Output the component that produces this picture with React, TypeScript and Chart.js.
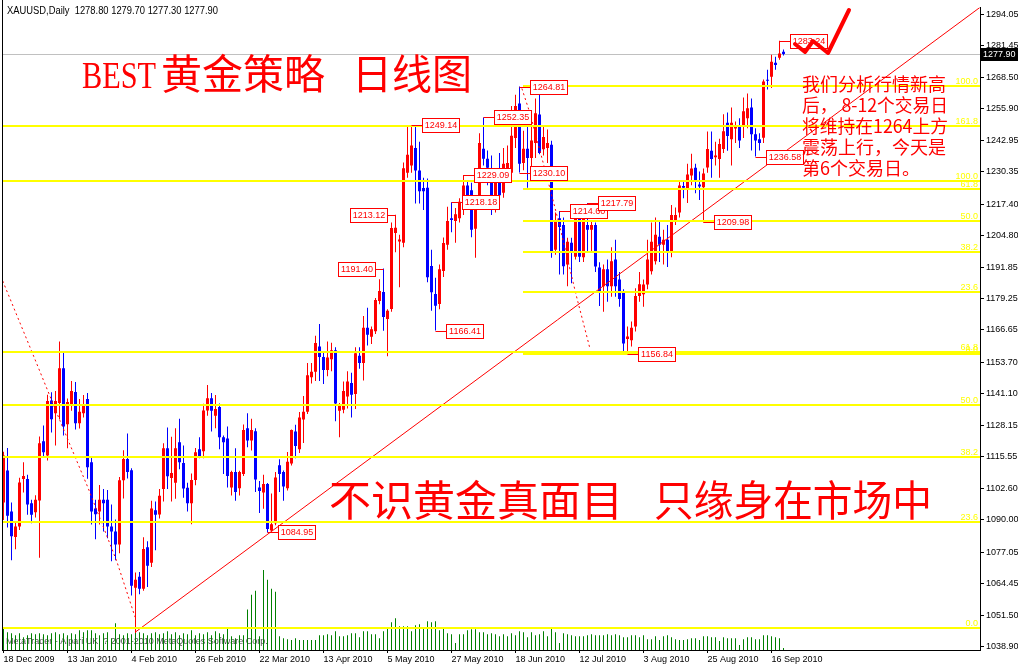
import React, { useEffect, useRef } from 'react';
import { Chart, registerables } from 'chart.js';

Chart.register(...registerables);

// ---- daily XAUUSD candles (18 Dec 2009 .. 20 Sep 2010) ----
const opens = [
  1097.0, 1110.0, 1093.4, 1083.1, 1087.4, 1106.5, 1106.5, 1096.7, 1093.1, 1097.9,
  1121.7, 1116.0, 1138.2, 1133.0, 1137.2, 1151.2, 1128.6, 1136.6, 1141.6, 1129.0,
  1133.0, 1138.8, 1113.3, 1094.6, 1093.4, 1098.2, 1098.2, 1087.4, 1085.4, 1080.1,
  1106.0, 1114.6, 1110.1, 1062.7, 1067.1, 1062.3, 1079.0, 1072.7, 1093.9, 1092.2,
  1102.5, 1118.9, 1106.9, 1105.0, 1121.3, 1113.0, 1103.0, 1096.7, 1106.1, 1118.5,
  1117.7, 1134.1, 1139.1, 1132.0, 1135.6, 1123.4, 1122.9, 1103.1, 1109.3, 1102.8,
  1108.5, 1127.0, 1122.1, 1125.8, 1103.1, 1101.1, 1104.5, 1085.8, 1088.7, 1112.1,
  1109.3, 1102.8, 1112.8, 1125.7, 1118.5, 1130.5, 1133.6, 1147.6, 1149.8, 1160.0,
  1155.7, 1150.5, 1154.8, 1158.4, 1134.0, 1134.5, 1139.8, 1145.2, 1140.8, 1156.2,
  1153.3, 1167.5, 1163.9, 1166.1, 1178.3, 1181.9, 1171.1, 1175.1, 1205.7, 1202.3,
  1201.8, 1230.0, 1233.0, 1240.0, 1230.9, 1223.9, 1224.0, 1192.4, 1181.1, 1177.1,
  1190.4, 1201.0, 1211.7, 1210.6, 1211.7, 1215.0, 1224.9, 1223.0, 1207.5, 1219.0,
  1239.7, 1235.7, 1232.0, 1217.0, 1230.0, 1222.0, 1231.0, 1230.0, 1244.0, 1258.0,
  1234.0, 1239.7, 1236.0, 1242.0, 1253.5, 1239.5, 1240.0, 1241.3, 1199.0, 1211.7,
  1209.0, 1193.0, 1201.8, 1196.2, 1211.7, 1196.0, 1209.0, 1207.0, 1209.0, 1191.8,
  1184.3, 1191.1, 1184.3, 1195.0, 1187.0, 1182.3, 1163.0, 1162.5, 1168.0, 1180.3,
  1181.0, 1185.0, 1190.3, 1194.3, 1204.2, 1201.0, 1203.0, 1197.8, 1211.0, 1214.0,
  1224.7, 1223.7, 1228.9, 1232.1, 1225.3, 1224.2, 1232.2, 1238.9, 1236.3, 1235.6,
  1239.6, 1250.2, 1243.5, 1247.9, 1249.2, 1248.8, 1252.0, 1256.3, 1245.6, 1243.5,
  1244.2, 1267.5, 1268.8, 1274.4, 1276.4, 1278.8,
];
const highs = [
  1117.5, 1119.0, 1097.0, 1089.0, 1107.0, 1113.3, 1108.2, 1098.2, 1100.0, 1123.7,
  1128.1, 1140.5, 1141.5, 1142.0, 1162.0, 1158.0, 1139.0, 1146.0, 1145.6, 1138.8,
  1140.4, 1141.2, 1115.3, 1098.2, 1104.1, 1102.5, 1102.1, 1096.2, 1090.2, 1107.3,
  1118.1, 1124.9, 1110.9, 1068.8, 1069.0, 1083.0, 1081.4, 1097.8, 1097.4, 1102.5,
  1120.9, 1127.3, 1123.6, 1127.0, 1130.8, 1120.0, 1105.0, 1108.7, 1119.0, 1123.4,
  1136.9, 1144.4, 1141.2, 1140.4, 1137.0, 1124.1, 1127.7, 1109.9, 1118.9, 1109.9,
  1128.5, 1133.0, 1130.8, 1127.0, 1105.7, 1108.2, 1104.9, 1100.7, 1109.3, 1114.5,
  1110.0, 1117.4, 1126.5, 1128.4, 1133.5, 1140.0, 1153.3, 1153.3, 1164.3, 1169.0,
  1157.9, 1162.0, 1161.5, 1159.7, 1137.2, 1145.8, 1150.0, 1149.4, 1159.7, 1159.7,
  1172.3, 1175.6, 1168.0, 1179.5, 1187.1, 1191.4, 1175.0, 1210.0, 1213.12, 1205.0,
  1234.2, 1248.5, 1249.14, 1248.6, 1242.5, 1228.0, 1227.7, 1199.0, 1187.7, 1193.0,
  1203.9, 1216.3, 1218.18, 1215.8, 1219.8, 1229.09, 1227.0, 1226.0, 1221.0, 1246.0,
  1252.35, 1239.0, 1237.0, 1230.0, 1238.0, 1240.0, 1241.0, 1257.0, 1261.5, 1264.81,
  1247.0, 1251.0, 1250.0, 1260.0, 1262.0, 1249.0, 1247.5, 1242.9, 1214.0, 1214.6,
  1212.0, 1203.8, 1203.8, 1216.0, 1214.0, 1214.0, 1217.79, 1211.0, 1210.0, 1193.9,
  1193.0, 1195.0, 1200.0, 1203.0, 1190.0, 1183.0, 1168.0, 1170.0, 1183.5, 1190.0,
  1187.0, 1203.0, 1210.0, 1212.0, 1211.0, 1207.0, 1209.0, 1217.0, 1216.0, 1227.0,
  1227.0, 1233.7, 1237.7, 1233.7, 1230.5, 1231.7, 1246.7, 1246.7, 1242.5, 1243.7,
  1253.6, 1254.3, 1256.3, 1250.7, 1252.0, 1260.4, 1262.0, 1260.0, 1248.0, 1246.0,
  1267.6, 1271.6, 1277.6, 1276.8, 1283.24, 1279.7,
];
const lows = [
  1090.0, 1087.0, 1073.8, 1078.2, 1086.0, 1101.1, 1092.1, 1088.7, 1091.0, 1074.8,
  1115.0, 1114.0, 1125.3, 1120.0, 1130.6, 1124.1, 1118.9, 1134.0, 1126.5, 1126.9,
  1131.3, 1106.6, 1088.2, 1082.2, 1088.2, 1085.4, 1082.6, 1073.4, 1073.8, 1076.6,
  1098.7, 1106.7, 1059.5, 1044.4, 1060.0, 1061.5, 1063.0, 1071.0, 1077.8, 1090.6,
  1097.4, 1102.5, 1097.4, 1098.6, 1110.5, 1099.0, 1093.4, 1088.3, 1104.0, 1114.9,
  1114.9, 1132.0, 1125.7, 1127.0, 1118.5, 1108.5, 1103.1, 1099.9, 1097.8, 1099.9,
  1107.7, 1119.3, 1118.0, 1101.3, 1092.8, 1094.5, 1084.95, 1085.5, 1087.9, 1101.3,
  1097.8, 1101.9, 1112.0, 1114.9, 1117.0, 1121.0, 1132.7, 1145.0, 1146.0, 1146.0,
  1144.8, 1148.0, 1150.0, 1129.8, 1123.4, 1133.0, 1135.0, 1131.3, 1134.8, 1151.0,
  1146.2, 1160.4, 1161.0, 1165.0, 1177.0, 1166.3, 1156.0, 1174.0, 1198.0, 1183.9,
  1200.0, 1228.0, 1230.0, 1217.6, 1217.6, 1215.0, 1185.9, 1174.4, 1166.41, 1175.0,
  1188.0, 1199.0, 1206.0, 1201.8, 1210.0, 1213.0, 1216.0, 1204.0, 1195.8, 1217.0,
  1233.0, 1225.0, 1213.0, 1214.0, 1219.0, 1220.0, 1228.0, 1228.0, 1240.0, 1230.10,
  1231.0, 1224.0, 1230.0, 1236.0, 1237.5, 1237.0, 1234.0, 1195.8, 1197.0, 1189.0,
  1189.0, 1184.3, 1185.5, 1195.0, 1194.0, 1194.0, 1198.0, 1198.0, 1190.0, 1176.3,
  1174.0, 1178.0, 1180.0, 1180.0, 1176.0, 1157.5, 1156.84, 1160.0, 1166.0, 1178.0,
  1176.0, 1183.0, 1189.0, 1193.0, 1194.0, 1193.0, 1192.0, 1196.0, 1209.0, 1212.0,
  1219.7, 1217.8, 1225.0, 1221.8, 1219.0, 1209.98, 1230.0, 1228.0, 1233.0, 1228.0,
  1238.0, 1238.9, 1233.0, 1242.0, 1240.0, 1244.0, 1248.0, 1239.0, 1236.58, 1239.0,
  1242.0, 1263.6, 1264.2, 1271.6, 1275.6, 1277.3,
];
const closes = [
  1116.0, 1091.7, 1083.4, 1087.4, 1105.1, 1107.7, 1096.2, 1092.1, 1098.2, 1120.9,
  1117.3, 1138.0, 1130.6, 1138.0, 1151.2, 1127.7, 1137.6, 1142.0, 1129.0, 1133.6,
  1136.8, 1111.3, 1093.4, 1092.3, 1098.2, 1096.7, 1087.4, 1085.4, 1080.1, 1106.0,
  1114.6, 1109.3, 1063.5, 1065.9, 1062.3, 1078.3, 1071.5, 1094.6, 1092.1, 1099.8,
  1118.9, 1107.6, 1108.9, 1118.9, 1113.3, 1102.7, 1096.7, 1106.1, 1117.3, 1115.7,
  1134.1, 1139.1, 1134.0, 1134.8, 1123.4, 1121.3, 1107.7, 1109.3, 1101.3, 1109.3,
  1126.3, 1122.1, 1126.3, 1106.3, 1101.7, 1104.5, 1086.4, 1088.3, 1107.1, 1108.5,
  1103.5, 1113.5, 1126.3, 1119.8, 1131.3, 1133.6, 1148.4, 1149.8, 1161.4, 1155.7,
  1150.5, 1155.5, 1158.4, 1137.0, 1136.7, 1142.0, 1145.8, 1140.5, 1157.2, 1153.3,
  1167.5, 1164.7, 1166.9, 1178.7, 1182.3, 1171.9, 1174.4, 1207.8, 1207.9, 1203.1,
  1231.8, 1237.3, 1241.0, 1230.9, 1222.6, 1222.6, 1187.9, 1181.8, 1176.4, 1191.1,
  1201.7, 1210.6, 1211.0, 1213.3, 1218.3, 1224.9, 1221.0, 1207.0, 1219.0, 1242.0,
  1235.7, 1232.1, 1217.0, 1227.0, 1221.0, 1233.7, 1234.0, 1245.0, 1257.0, 1233.7,
  1239.7, 1236.0, 1243.0, 1254.0, 1238.0, 1244.5, 1242.0, 1198.2, 1211.0, 1208.2,
  1192.3, 1202.2, 1197.8, 1211.7, 1196.2, 1211.5, 1207.0, 1209.0, 1192.2, 1182.3,
  1191.1, 1184.3, 1194.3, 1184.3, 1179.1, 1161.2, 1164.0, 1167.5, 1180.3, 1185.1,
  1185.0, 1195.0, 1202.2, 1205.0, 1201.0, 1203.0, 1197.8, 1213.0, 1213.0, 1224.9,
  1224.0, 1229.3, 1231.7, 1227.0, 1224.5, 1229.7, 1239.6, 1235.6, 1237.0, 1241.6,
  1246.8, 1244.9, 1250.2, 1249.2, 1243.0, 1254.8, 1256.0, 1245.6, 1243.0, 1242.0,
  1266.8, 1267.1, 1274.8, 1273.5, 1278.1, 1277.9,
];
const volumes = [
  23000, 18000, 17000, 15000, 17000, 13000, 15000, 17000, 16000, 17000,
  16000, 15000, 17000, 18000, 16000, 17000, 15000, 17000, 16000, 20000,
  18000, 20000, 20000, 17000, 15000, 17000, 18000, 12000, 27000, 16000,
  15000, 17000, 16000, 19000, 18000, 17000, 15000, 17000, 18000, 16000,
  17000, 19000, 16000, 18000, 15000, 17000, 16000, 20000, 15000, 17000,
  16000, 18000, 15000, 19000, 17000, 16000, 22000, 14000, 12000, 15000,
  15000, 41000, 56000, 60000, 14000, 81000, 71000, 62000, 59000, 14000,
  12000, 11000, 10000, 12000, 10000, 10000, 10000, 10000, 10000, 15000,
  15000, 16000, 15000, 19000, 14000, 14000, 15000, 17000, 17000, 13000,
  19000, 19000, 16000, 16000, 12000, 19000, 22000, 28000, 32000, 24000,
  24000, 24000, 19000, 25000, 26000, 23000, 29000, 28000, 29000, 20000,
  23000, 17000, 16000, 7000, 16000, 16000, 20000, 21000, 21000, 18000,
  18000, 16000, 17000, 16000, 14000, 16000, 14000, 17000, 15000, 19000,
  18000, 13000, 18000, 15000, 16000, 19000, 14000, 23000, 18000, 7000,
  17000, 16000, 15000, 14000, 14000, 14000, 15000, 16000, 15000, 15000,
  15000, 16000, 15000, 16000, 15000, 13000, 13000, 15000, 15000, 13000,
  15000, 11000, 11000, 14000, 10000, 14000, 15000, 13000, 11000, 10000,
  10000, 11000, 12000, 12000, 10000, 14000, 14000, 13000, 13000, 9000,
  13000, 12000, 12000, 12000, 5000, 11000, 13000, 13000, 11000, 11000,
  15000, 15000, 14000, 13000, 12000, 2000,
];

// ---- axes ----
const xTickIndex = [0, 16, 32, 48, 64, 80, 96, 112, 128, 144, 160, 176, 192];
const xTickLabels = ['18 Dec 2009', '13 Jan 2010', '4 Feb 2010', '26 Feb 2010', '22 Mar 2010', '13 Apr 2010',
  '5 May 2010', '27 May 2010', '18 Jun 2010', '12 Jul 2010', '3 Aug 2010', '25 Aug 2010', '16 Sep 2010'];
const yTickValues = [1294.05, 1281.45, 1268.5, 1255.9, 1242.95, 1230.35, 1217.4, 1204.8, 1191.85, 1179.25,
  1166.65, 1153.7, 1141.1, 1128.15, 1115.55, 1102.6, 1090.0, 1077.05, 1064.45, 1051.5, 1038.9];
const X_MIN = -0.375;
const X_MAX = 244.125;
const Y_MIN = 1037.56;
const Y_MAX = 1296.72;
const VOL_MAX = 650000;

// ---- fibonacci levels ----
const fibValues = [1265.1, 1248.9, 1226.6, 1223.5, 1210.7, 1197.9, 1182.0, 1157.7, 1156.8, 1136.5, 1115.2, 1089.3, 1046.3];
const fibLabels = ['100.0', '161.8', '100.0', '61.8', '50.0', '38.2', '23.6', '61.8', '0.0', '50.0', '38.2', '23.6', '0.0'];
const fibStartBar = [129.9, null, null, 129.9, 129.9, 129.9, 129.9, null, 129.9, null, null, null, null];

// ---- swing price marks ----
const markBars = [66, 95, 98, 108, 102, 120, 115, 112, 129, 129, 139, 146, 156, 175, 188, 194];
const markValues = [1084.95, 1191.4, 1213.12, 1166.41, 1249.14, 1252.35, 1229.09, 1218.18, 1264.81, 1230.1,
  1214.6, 1217.79, 1156.84, 1209.98, 1236.58, 1283.24];
const markSide = [1, -1, -1, 1, 1, 1, 1, 1, 1, 1, 1, 1, 1, 1, 1, 1];

// ---- drawn lines ----
const zigAX = [-0.2, 7.05, 14.1, 21.2, 28.3, 32.9];
const zigAY = [1186.4, 1158.0, 1130.1, 1102.7, 1073.4, 1050.8];
const zigBX = [129.6, 131.6, 136.1, 139.1, 143.1, 146.6];
const zigBY = [1264.0, 1254.1, 1226.9, 1208.2, 1181.1, 1159.2];
const trendX = [32.9, 244.1];
const trendY = [1044.7, 1296.7];

const titleLatin = 'BEST';
const titleCjk = '黄金策略';
const titleCjk2 = '日线图';
const slogan1 = '不识黄金真面目';
const slogan2 = '只缘身在市场中';
const noteLines = ['我们分析行情新高', '后， 8-12个交易日', '将维持在1264上方', '震荡上行，今天是', '第6个交易日。'];
const copyright = 'MetaTrader - Alpari UK, ? 2001-2010 MetaQuotes Software Corp.';

const RED = '#ff0000';
const BLUE = '#0000ff';
const GREEN = '#008000';
const YELLOW = '#ffff00';
const CJK = '"Noto Sans CJK SC"';
const SANS = '"Liberation Sans"';

const overlay = {
  id: 'overlay',
  beforeDraw(chart: any) {
    const ctx = chart.ctx;
    ctx.save();
    ctx.fillStyle = '#ffffff';
    ctx.fillRect(0, 0, chart.width, chart.height);
    ctx.restore();
  },
  beforeDatasetsDraw(chart: any) {
    const { ctx, chartArea: a, scales } = chart;
    const last = closes[closes.length - 1];
    ctx.save();
    const py = Math.round(scales.y.getPixelForValue(last)) + 0.5;
    ctx.strokeStyle = '#c0c0c0';
    ctx.lineWidth = 1;
    ctx.beginPath();
    ctx.moveTo(a.left, py);
    ctx.lineTo(a.right, py);
    ctx.stroke();
    ctx.font = `9px ${SANS}`;
    ctx.fillStyle = '#505050';
    ctx.textBaseline = 'middle';
    ctx.textAlign = 'left';
    ctx.fillText(copyright, 6, 642, 289);
    ctx.restore();
  },
  afterDatasetsDraw(chart: any) {
    const { ctx, chartArea: a, scales } = chart;
    const xs = scales.x;
    const ys = scales.y;
    ctx.save();

    // fibonacci lines
    ctx.fillStyle = YELLOW;
    ctx.font = `9px ${SANS}`;
    ctx.textAlign = 'right';
    ctx.textBaseline = 'alphabetic';
    fibValues.forEach((v, k) => {
      const y = Math.round(ys.getPixelForValue(v));
      const sb = fibStartBar[k];
      const x0 = sb === null ? a.left : Math.round(xs.getPixelForValue(sb));
      ctx.fillRect(x0, y - 1, a.right - x0, 2);
      ctx.fillText(fibLabels[k], a.right - 2, y - 2);
    });

    // left frame
    ctx.strokeStyle = '#000000';
    ctx.lineWidth = 1;
    ctx.beginPath();
    ctx.moveTo(a.left + 0.5, 0);
    ctx.lineTo(a.left + 0.5, a.bottom);
    ctx.stroke();

    // swing price labels
    ctx.strokeStyle = RED;
    ctx.font = `9px ${SANS}`;
    markBars.forEach((b, k) => {
      const ax = xs.getPixelForValue(b);
      const ay = Math.round(ys.getPixelForValue(markValues[k])) + 0.5;
      const w = 37;
      const h = 14;
      const bx = markSide[k] > 0 ? Math.round(ax + 10) + 0.5 : Math.round(ax - 9 - w) + 0.5;
      const by = ay - 7;
      ctx.beginPath();
      ctx.moveTo(ax, ay);
      ctx.lineTo(markSide[k] > 0 ? bx : bx + w, ay);
      ctx.stroke();
      ctx.fillStyle = '#ffffff';
      ctx.fillRect(bx, by, w, h);
      ctx.strokeRect(bx, by, w, h);
      ctx.fillStyle = RED;
      ctx.textAlign = 'center';
      ctx.textBaseline = 'middle';
      ctx.fillText(markValues[k].toFixed(2), bx + w / 2, by + h / 2 + 0.5);
    });

    // hand drawn mark
    ctx.strokeStyle = RED;
    ctx.lineWidth = 4;
    ctx.lineJoin = 'round';
    ctx.lineCap = 'round';
    ctx.beginPath();
    ctx.moveTo(795, 44);
    ctx.lineTo(805, 52);
    ctx.lineTo(813, 41);
    ctx.lineTo(828, 53);
    ctx.lineTo(849, 10);
    ctx.stroke();

    // titles
    ctx.fillStyle = RED;
    ctx.textAlign = 'left';
    ctx.textBaseline = 'alphabetic';
    ctx.font = `38px "Liberation Serif"`;
    ctx.fillText(titleLatin, 82, 88, 74);
    ctx.font = `41px ${CJK}`;
    ctx.fillText(titleCjk, 161, 89, 168);
    ctx.fillText(titleCjk2, 352, 89, 120);
    ctx.font = `42px ${CJK}`;
    ctx.fillText(slogan1, 329, 516, 304);
    ctx.fillText(slogan2, 654, 516, 278);
    ctx.font = `18px ${CJK}`;
    noteLines.forEach((t, k) => {
      ctx.fillText(t, 802, 91 + k * 21, 146);
    });

    // header
    const n = closes.length - 1;
    ctx.fillStyle = '#000000';
    ctx.font = `10px ${SANS}`;
    const header = `XAUUSD,Daily  ${opens[n].toFixed(2)} ${highs[n].toFixed(2)} ${lows[n].toFixed(2)} ${closes[n].toFixed(2)}`;
    ctx.fillText(header, 7, 14, 211);
    ctx.restore();
  },
  afterDraw(chart: any) {
    const { ctx, chartArea: a, scales } = chart;
    const last = closes[closes.length - 1];
    const y = Math.round(scales.y.getPixelForValue(last));
    ctx.save();
    ctx.fillStyle = '#000000';
    ctx.fillRect(a.right + 1, y - 6, chart.width - a.right - 1, 13);
    ctx.fillStyle = '#ffffff';
    ctx.font = `9px ${SANS}`;
    ctx.textAlign = 'left';
    ctx.textBaseline = 'middle';
    ctx.fillText(last.toFixed(2), a.right + 3, y + 0.5);
    ctx.restore();
  },
};

export default function App() {
  const canvasRef = useRef<HTMLCanvasElement | null>(null);
  useEffect(() => {
    document.body.style.margin = '0';
    const canvas = canvasRef.current;
    if (!canvas) return;
    const idx = opens.map((_, i) => i);
    const colors = idx.map((i) => (closes[i] >= opens[i] ? RED : BLUE));
    const chart = new Chart(canvas, {
      type: 'bar',
      data: {
        datasets: [
          {
            type: 'bar',
            label: 'volume',
            xAxisID: 'x',
            yAxisID: 'v',
            data: idx.map((i) => ({ x: i, y: volumes[i] })),
            backgroundColor: GREEN,
            barThickness: 1,
            grouped: false,
            inflateAmount: 0,
            order: 5,
          },
          {
            type: 'bar',
            label: 'wick',
            xAxisID: 'x',
            yAxisID: 'y',
            data: idx.map((i) => ({ x: i, y: [lows[i], highs[i]] })),
            backgroundColor: colors,
            barThickness: 1,
            grouped: false,
            inflateAmount: 0,
            order: 4,
          },
          {
            type: 'bar',
            label: 'body',
            xAxisID: 'x',
            yAxisID: 'y',
            data: idx.map((i) => ({ x: i, y: [Math.min(opens[i], closes[i]), Math.max(opens[i], closes[i])] })),
            backgroundColor: colors,
            barThickness: 3,
            grouped: false,
            inflateAmount: 0,
            minBarLength: 1,
            order: 3,
          },
          {
            type: 'line',
            label: 'zigA',
            xAxisID: 'x',
            yAxisID: 'y',
            data: zigAX.map((x, k) => ({ x, y: zigAY[k] })),
            borderColor: RED,
            borderWidth: 1,
            borderDash: [2, 3],
            pointRadius: 0,
            fill: false,
            order: 2,
          },
          {
            type: 'line',
            label: 'zigB',
            xAxisID: 'x',
            yAxisID: 'y',
            data: zigBX.map((x, k) => ({ x, y: zigBY[k] })),
            borderColor: RED,
            borderWidth: 1,
            borderDash: [2, 3],
            pointRadius: 0,
            fill: false,
            order: 2,
          },
          {
            type: 'line',
            label: 'trend',
            xAxisID: 'x',
            yAxisID: 'y',
            data: trendX.map((x, k) => ({ x, y: trendY[k] })),
            borderColor: RED,
            borderWidth: 1,
            pointRadius: 0,
            fill: false,
            order: 1,
          },
        ],
      } as any,
      options: {
        responsive: false,
        animation: false,
        events: [],
        layout: { padding: { left: 2, top: 0, right: 0, bottom: 0 } },
        plugins: { legend: { display: false }, tooltip: { enabled: false } },
        scales: {
          x: {
            type: 'linear',
            position: 'bottom',
            offset: false,
            min: X_MIN,
            max: X_MAX,
            afterBuildTicks: (s: any) => {
              s.ticks = xTickIndex.map((v) => ({ value: v }));
            },
            afterFit: (s: any) => {
              s.height = 16;
            },
            ticks: {
              autoSkip: false,
              maxRotation: 0,
              align: 'start',
              padding: 1,
              color: '#000000',
              font: { family: 'Liberation Sans', size: 9 },
              callback: (v: any) => {
                const k = xTickIndex.indexOf(Number(v));
                return k >= 0 ? xTickLabels[k] : '';
              },
            },
            grid: { offset: false, drawOnChartArea: false, drawTicks: true, tickLength: 3, color: '#000000' },
            border: { display: true, color: '#000000' },
          },
          y: {
            type: 'linear',
            position: 'right',
            offset: false,
            min: Y_MIN,
            max: Y_MAX,
            afterBuildTicks: (s: any) => {
              s.ticks = yTickValues.map((v) => ({ value: v }));
            },
            afterFit: (s: any) => {
              s.width = 38;
            },
            ticks: {
              padding: 2,
              color: '#000000',
              font: { family: 'Liberation Sans', size: 9 },
              callback: (v: any) => Number(v).toFixed(2),
            },
            grid: { drawOnChartArea: false, drawTicks: true, tickLength: 4, color: '#000000' },
            border: { display: true, color: '#000000' },
          },
          v: {
            type: 'linear',
            display: false,
            offset: false,
            min: 0,
            max: VOL_MAX,
          },
        },
      } as any,
      plugins: [overlay],
    });
    return () => chart.destroy();
  }, []);
  return (
    <div style={{ position: 'absolute', left: 0, top: 0, width: 1018, height: 666 }}>
      <canvas ref={canvasRef} width={1018} height={666} style={{ display: 'block' }} />
    </div>
  );
}
